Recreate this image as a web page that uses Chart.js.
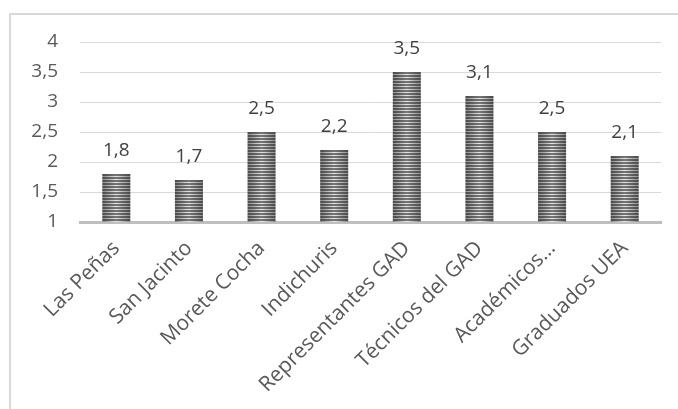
<!DOCTYPE html>
<html><head><meta charset="utf-8">
<script src="https://cdn.jsdelivr.net/npm/chart.js@4"></script>
<style>
html,body{margin:0;padding:0;background:#fff;}
#wrap{position:relative;width:678px;height:409px;}
#frame{position:absolute;left:9px;top:13px;right:-5px;bottom:-5px;border:2px solid #d9d9d9;}
canvas{position:absolute;left:0;top:0;}
</style></head>
<body>
<div id="wrap"><div id="frame"></div><canvas id="c" width="678" height="409"></canvas></div>
<script>
const categories = ["Las Peñas","San Jacinto","Morete Cocha","Indichuris","Representantes GAD","Técnicos del GAD","Académicos…","Graduados UEA"];
const values = [1.8, 1.7, 2.5, 2.2, 3.5, 3.1, 2.5, 2.1];
const valueLabels = ["1,8","1,7","2,5","2,2","3,5","3,1","2,5","2,1"];
const yTicks = [1, 1.5, 2, 2.5, 3, 3.5, 4];

const BAR_PCT = 0.386;
function makePattern(ctx, w){
  const c = document.createElement('canvas');
  const W = Math.max(2, Math.round(w));
  c.width = W; c.height = 3;
  const g = c.getContext('2d');
  const gl = g.createLinearGradient(0,0,W,0);
  gl.addColorStop(0,'#8a8a8a'); gl.addColorStop(0.5,'#e6e6e6'); gl.addColorStop(1,'#8a8a8a');
  g.fillStyle = gl; g.fillRect(0,0,W,3);
  const gd = g.createLinearGradient(0,0,W,0);
  gd.addColorStop(0,'#4a4a4a'); gd.addColorStop(0.5,'#777777'); gd.addColorStop(1,'#4a4a4a');
  g.fillStyle = gd; g.fillRect(0,0,W,2);
  return ctx.createPattern(c,'repeat');
}
function barFill(context){
  const chart = context.chart;
  const area = chart.chartArea;
  if(!area) return '#777';
  const n = categories.length;
  const cw = (area.right-area.left)/n;
  const w = cw*BAR_PCT;
  const i = context.dataIndex;
  const left = area.left + (i+0.5)*cw - w/2;
  const p = makePattern(chart.ctx, w);
  try { p.setTransform(new DOMMatrix().translate(left, area.bottom)); } catch(e){}
  return p;
}

const labelPlugin = {
  id:'valueLabels',
  afterDatasetsDraw(chart){
    const ctx = chart.ctx;
    const meta = chart.getDatasetMeta(0);
    ctx.save();
    ctx.font = '19px "Open Sans"';
    ctx.fillStyle = '#404040';
    ctx.textAlign = 'center';
    ctx.textBaseline = 'alphabetic';
    meta.data.forEach((bar,i)=>{
      ctx.fillText(valueLabels[i], bar.x, bar.y - 18);
    });
    ctx.restore();
  }
};

new Chart(document.getElementById('c'), {
  type:'bar',
  data:{labels:categories, datasets:[{data:values, backgroundColor:barFill, borderWidth:0, barPercentage:BAR_PCT, categoryPercentage:1}]},
  options:{
    responsive:false, animation:false,
    layout:{padding:{left:0,right:17,top:42,bottom:0}},
    plugins:{legend:{display:false}, tooltip:{enabled:false}},
    scales:{
      x:{
        grid:{display:false, drawTicks:false},
        border:{display:true, color:'#bfbfbf', width:3},
        ticks:{minRotation:45, maxRotation:45, autoSkip:false, color:'#595959', font:{family:'"Open Sans"', size:21}, padding:14},
        afterFit(s){ s.height = 409-222; }
      },
      y:{
        min:1, max:4,
        afterBuildTicks(s){ s.ticks = yTicks.map(v=>({value:v})); },
        grid:{color:'#d9d9d9', lineWidth:1, drawTicks:false},
        border:{display:false},
        ticks:{color:'#595959', font:{family:'"Open Sans"', size:19}, padding:22,
          callback:(v)=>String(v).replace('.',',')},
        afterFit(s){ s.width = 80; }
      }
    }
  },
  plugins:[labelPlugin]
});
</script>
</body></html>
